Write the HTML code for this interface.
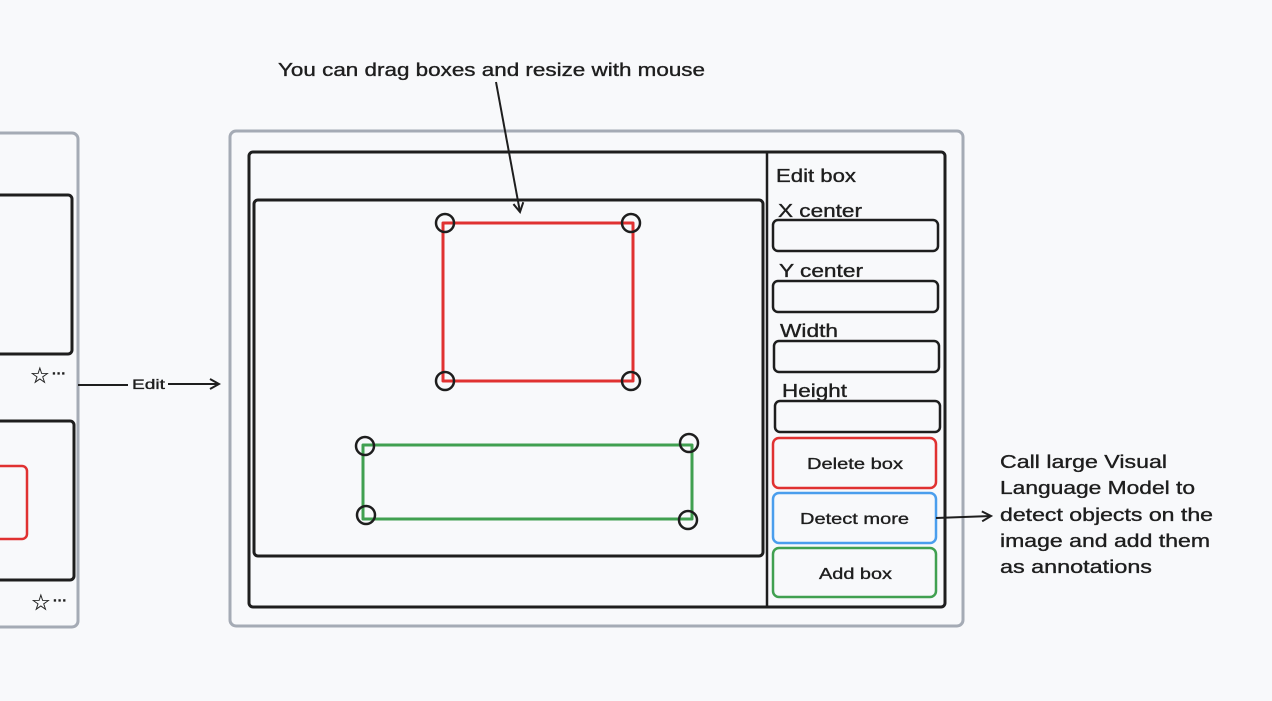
<!DOCTYPE html>
<html><head><meta charset="utf-8"><style>
html,body{margin:0;padding:0;background:#f8f9fb;}
svg{display:block}
text{font-family:"Liberation Sans",sans-serif;fill:#1e1e1e;stroke:#1e1e1e;stroke-width:0.35;}
</style></head><body>
<svg width="1272" height="701" viewBox="0 0 1272 701" xmlns="http://www.w3.org/2000/svg">
<defs><marker id="ah" markerWidth="12" markerHeight="12" refX="10" refY="6" orient="auto" markerUnits="userSpaceOnUse"><path d="M1,1 L10,6 L1,11" fill="none" stroke="#1e1e1e" stroke-width="2"/></marker></defs>
<g fill="none" stroke-linejoin="round">
<rect x="-20" y="133" width="98" height="494" rx="6" stroke="#a5abb5" stroke-width="3"/>
<rect x="-20" y="195" width="92" height="159" rx="4" stroke="#1e1e1e" stroke-width="3"/>
<rect x="-20" y="421" width="94" height="159" rx="4" stroke="#1e1e1e" stroke-width="3"/>
<rect x="-20" y="466" width="47" height="73" rx="5" stroke="#e03131" stroke-width="2.5"/>
<rect x="230" y="131" width="733" height="495" rx="6" stroke="#a5abb5" stroke-width="3"/>
<rect x="249" y="152" width="696" height="455" rx="4" stroke="#1e1e1e" stroke-width="3"/>
<line x1="767" y1="152" x2="767" y2="607" stroke="#1e1e1e" stroke-width="2.5"/>
<rect x="254" y="200" width="509" height="356" rx="4" stroke="#1e1e1e" stroke-width="3"/>
<rect x="443" y="223" width="190" height="158" stroke="#e03131" stroke-width="3"/>
<rect x="363" y="445" width="329" height="74" stroke="#40a050" stroke-width="3"/>
<g stroke="#1e1e1e" stroke-width="2.5">
<circle cx="445" cy="223" r="9"/><circle cx="631" cy="223" r="9"/>
<circle cx="445" cy="381" r="9"/><circle cx="631" cy="381" r="9"/>
<circle cx="365" cy="446" r="9"/><circle cx="689" cy="443" r="9"/>
<circle cx="366" cy="515" r="9"/><circle cx="688" cy="520" r="9"/>
</g>
<g stroke="#1e1e1e" stroke-width="2.5">
<rect x="773" y="220" width="165" height="31" rx="5"/>
<rect x="773" y="281" width="165" height="31" rx="5"/>
<rect x="774" y="341" width="165" height="31" rx="5"/>
<rect x="775" y="401" width="165" height="31" rx="5"/>
</g>
<rect x="773" y="438" width="163" height="50" rx="6" stroke="#e03131" stroke-width="2.5"/>
<rect x="773" y="493" width="163" height="50" rx="6" stroke="#4a9eed" stroke-width="2.5"/>
<rect x="773" y="548" width="163" height="49" rx="6" stroke="#40a050" stroke-width="2.5"/>
<path d="M496 82 L520 212" stroke="#1e1e1e" stroke-width="2" marker-end="url(#ah)"/>
<path d="M78 385 L128 385" stroke="#1e1e1e" stroke-width="2"/>
<path d="M168 384 L219 384" stroke="#1e1e1e" stroke-width="2" marker-end="url(#ah)"/>
<path d="M936 518 L991 516" stroke="#1e1e1e" stroke-width="2" marker-end="url(#ah)"/>
</g>
<g font-size="22" style="stroke-width:1.2"><text x="30" y="383">☆</text><text x="31" y="610">☆</text></g>
<g font-size="14" font-weight="bold"><text x="52" y="378">···</text><text x="53" y="605">···</text></g>
<text x="132" y="389" font-size="14" textLength="33" lengthAdjust="spacingAndGlyphs">Edit</text>
<text x="278" y="76" font-size="18" textLength="427" lengthAdjust="spacingAndGlyphs">You can drag boxes and resize with mouse</text>
<g font-size="18">
<text x="776" y="182" textLength="80" lengthAdjust="spacingAndGlyphs">Edit box</text>
<text x="778" y="217" textLength="84" lengthAdjust="spacingAndGlyphs">X center</text>
<text x="779" y="277" textLength="84" lengthAdjust="spacingAndGlyphs">Y center</text>
<text x="780" y="337" textLength="58" lengthAdjust="spacingAndGlyphs">Width</text>
<text x="782" y="397" textLength="65" lengthAdjust="spacingAndGlyphs">Height</text>
</g>
<g font-size="16">
<text x="807" y="469" textLength="96" lengthAdjust="spacingAndGlyphs">Delete box</text>
<text x="800" y="524" textLength="109" lengthAdjust="spacingAndGlyphs">Detect more</text>
<text x="819" y="579" textLength="73" lengthAdjust="spacingAndGlyphs">Add box</text>
</g>
<g font-size="18">
<text x="1000" y="468" textLength="167" lengthAdjust="spacingAndGlyphs">Call large Visual</text>
<text x="1000" y="494" textLength="195" lengthAdjust="spacingAndGlyphs">Language Model to</text>
<text x="1000" y="521" textLength="213" lengthAdjust="spacingAndGlyphs">detect objects on the</text>
<text x="1000" y="547" textLength="210" lengthAdjust="spacingAndGlyphs">image and add them</text>
<text x="1000" y="573" textLength="152" lengthAdjust="spacingAndGlyphs">as annotations</text>
</g>
</svg>
</body></html>
